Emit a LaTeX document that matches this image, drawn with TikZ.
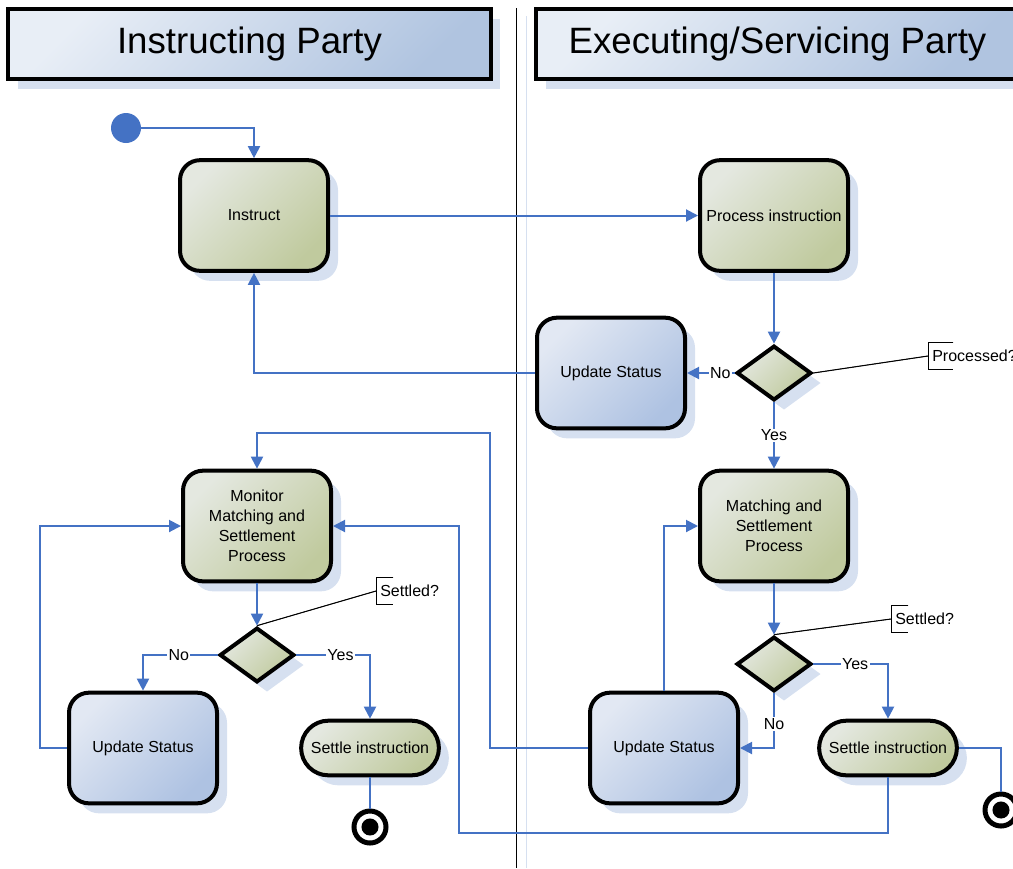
\documentclass[tikz,border=0pt]{standalone}
\usepackage{fontspec}
\setmainfont{Liberation Sans}
\usepackage{xcolor}
\usepackage{tikz}
\usetikzlibrary{arrows.meta,shapes.geometric,shapes.misc,shadows,backgrounds}
\definecolor{flowblue}{RGB}{68,114,196}
\definecolor{shadowblue}{RGB}{214,224,240}
\definecolor{actlight}{RGB}{228,232,224}
\definecolor{actdark}{RGB}{192,202,158}
\definecolor{statlight}{RGB}{226,232,243}
\definecolor{statdark}{RGB}{174,194,226}
\definecolor{hdrlight}{RGB}{232,238,246}
\definecolor{hdrdark}{RGB}{176,196,224}

\begin{document}
\begin{tikzpicture}[x=0.75pt, y=-0.75pt,
    flow/.style={draw=flowblue, line width=1.5pt, -{Triangle[length=9pt, width=9pt]}},
    wire/.style={draw=flowblue, line width=1.5pt},
    lbl/.style={fill=white, inner sep=1pt, font=\fontsize{12}{14}\selectfont},
    shad/.style={drop shadow={shadow xshift=7.5pt, shadow yshift=-7.5pt, fill=shadowblue, opacity=1}},
    act/.style={shad, draw, line width=3pt, rounded corners=15pt, top color=actlight, bottom color=actdark, shading angle=45, minimum width=111pt, minimum height=83pt, align=center, font=\fontsize{12}{15}\selectfont},
    stat/.style={act, top color=statlight, bottom color=statdark, shading angle=45},
    settle/.style={shad, draw, line width=3pt, rounded rectangle, top color=actlight, bottom color=actdark, shading angle=45, minimum width=110pt, minimum height=41pt, font=\fontsize{12}{15}\selectfont},
    decision/.style={shad, draw, line width=3pt, diamond, top color=actlight, bottom color=actdark, shading angle=45, minimum width=56pt, minimum height=41pt, inner sep=0pt},
    header/.style={drop shadow={shadow xshift=7pt, shadow yshift=-7.5pt, fill=shadowblue, opacity=1}, draw, line width=3pt, top color=hdrlight, bottom color=hdrdark, shading angle=45, minimum width=362pt, minimum height=53pt, font=\fontsize{27.5}{33}\selectfont},
    note/.style={anchor=west, minimum height=20pt, inner xsep=3pt, inner ysep=0pt, font=\fontsize{12}{14}\selectfont},
    endpt/.style={circle, draw, line width=3.75pt, minimum size=24pt, inner sep=0pt, path picture={\fill (path picture bounding box.center) circle (6.4pt);}}]
    % Swimlane activity diagram of the two parties
    \useasboundingbox (0,0) rectangle (1013,868);
    \clip (0,0) rectangle (1013,868);

    \draw[shadowblue, line width=0.75pt] (526,16) -- (526,868);
    \draw[line width=0.75pt] (516,8) -- (516,868);
    \node[header] (hdrL) at (249.5,44) {Instructing Party};
    \node[header] (hdrR) at (777.5,44) {Executing/Servicing Party};

    \node[circle, fill=flowblue, minimum size=22.5pt, inner sep=0pt] (start) at (126,128) {};
    \node[act] (instruct) at (254,215.5) {Instruct};
    \node[act] (process) at (774,215.5) {Process instruction};
    \node[decision] (dec1) at (774,373) {};
    \node[stat] (upd1) at (611,373) {Update Status};
    \node[act] (match) at (774,526) {Matching and\\Settlement\\Process};
    \node[act] (monitor) at (257,526) {Monitor\\Matching and\\Settlement\\Process};
    \node[decision] (dec2) at (257,655) {};
    \node[stat] (upd2) at (143,748) {Update Status};
    \node[settle] (settle1) at (370,748) {Settle instruction};
    \node[endpt] (end1) at (370,827) {};
    \node[decision] (dec3) at (774,664) {};
    \node[stat] (upd3) at (664,748) {Update Status};
    \node[settle] (settle2) at (888,748) {Settle instruction};
    \node[endpt] (end2) at (1001,810) {};

    \node[note] (q1) at (928,356) {Processed?};
    \node[note] (q2) at (376,591) {Settled?};
    \node[note] (q3) at (891,619) {Settled?};
    \draw[line width=0.75pt] (dec1.east) -- (q1.west);
    \draw[line width=0.75pt] (dec2.north) -- (q2.west);
    \draw[line width=0.75pt] (dec3.north) -- (q3.west);
    \draw[line width=0.75pt] ([xshift=19pt]q1.north west) -- (q1.north west) -- (q1.south west) -- ++(25,0);
    \draw[line width=0.75pt] ([xshift=13pt]q2.north west) -- (q2.north west) -- (q2.south west) -- ++(17,0);
    \draw[line width=0.75pt] ([xshift=13pt]q3.north west) -- (q3.north west) -- (q3.south west) -- ++(17,0);
    \begin{scope}[on background layer, transform canvas={shift={(7.5pt,-7.5pt)}}, shadowblue, line width=0.75pt]
        \draw (dec1.east) -- (q1.west);
        \draw (dec2.north) -- (q2.west);
        \draw (dec3.north) -- (q3.west);
        \draw ([xshift=19pt]q1.north west) -- (q1.north west) -- (q1.south west) -- ++(25,0);
        \draw ([xshift=13pt]q2.north west) -- (q2.north west) -- (q2.south west) -- ++(17,0);
        \draw ([xshift=13pt]q3.north west) -- (q3.north west) -- (q3.south west) -- ++(17,0);
    \end{scope}

    \draw[flow] (start.east) -| (instruct.north);
    \draw[flow] (instruct.east) -- (process.west);
    \draw[flow] (process.south) -- (dec1.north);
    \draw[flow] (dec1.west) -- node[lbl, pos=0.3] {No} (upd1.east);
    \draw[flow] (upd1.west) -| (instruct.south);
    \draw[flow] (dec1.south) -- node[lbl] {Yes} (match.north);
    \draw[flow] (match.south) -- (dec3.north);
    \draw[flow] (monitor.south) -- (dec2.north);
    \draw[flow] (dec2.west) -| node[lbl, pos=0.26] {No} (upd2.north);
    \draw[flow] (dec2.east) -| node[lbl, pos=0.3] {Yes} (settle1.north);
    \draw[wire] (settle1.south) -- (end1.north);
    \draw[flow] (upd2.west) -- ++(-27,0) |- (monitor.west);
    \draw[flow] (dec3.east) -| node[lbl, pos=0.28] {Yes} (settle2.north);
    \draw[flow] (dec3.south) |- node[lbl, pos=0.28] {No} (upd3.east);
    \draw[flow] (upd3.north) |- (match.west);
    \draw[flow] (upd3.west) -| (490,433) -| (monitor.north);
    \draw[flow] (settle2.south) |- (459,833) |- (monitor.east);
    \draw[wire] (settle2.east) -| (end2.north);
\end{tikzpicture}
\end{document}
